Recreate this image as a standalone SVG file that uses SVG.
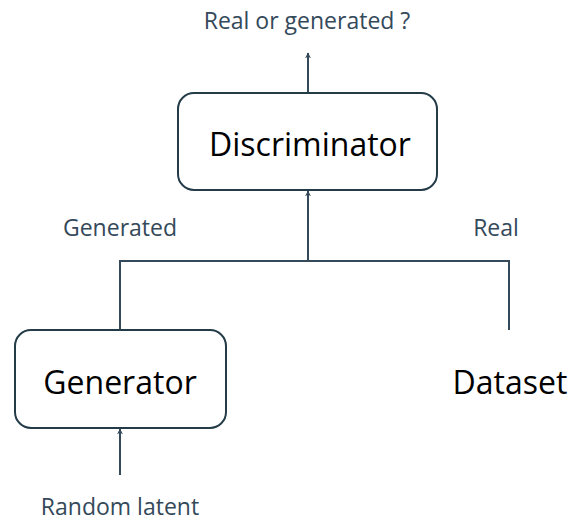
<svg xmlns="http://www.w3.org/2000/svg" width="570" height="521" viewBox="0 0 570 521">
  <style>
    .box { fill: #ffffff; stroke: #243b48; stroke-width: 2; }
    .wire { fill: none; stroke: #34495a; stroke-width: 2; }
    .title { font-family: "Open Sans", "Noto Sans", sans-serif; font-size: 32px; fill: #000000; }
    .label { font-family: "Open Sans", "Noto Sans", sans-serif; font-size: 23px; fill: #34495a; }
  </style>
  <defs>
    <marker id="arrow" viewBox="0 0 10 10" refX="9" refY="5" markerWidth="6" markerHeight="8" markerUnits="userSpaceOnUse" orient="auto">
      <path d="M0,0 L10,5 L0,10 L3,5 Z" fill="#34495a"/>
    </marker>
  </defs>

  <rect width="570" height="521" fill="#ffffff"/>

  <!-- connectors -->
  <g id="connectors">
    <path class="wire" d="M308,93 V53" marker-end="url(#arrow)"/>
    <path class="wire" d="M120,330 V261 H509 V330"/>
    <path class="wire" d="M308,261 V191" marker-end="url(#arrow)"/>
    <path class="wire" d="M120,475 V429" marker-end="url(#arrow)"/>
  </g>

  <!-- connector labels -->
  <g id="labels">
    <text class="label" x="307" y="29" text-anchor="middle">Real or generated ?</text>
    <text class="label" x="120" y="236" text-anchor="middle">Generated</text>
    <text class="label" x="496" y="236" text-anchor="middle">Real</text>
    <text class="label" x="120" y="515" text-anchor="middle">Random latent</text>
  </g>

  <g id="discriminator">
    <rect class="box" x="178" y="93" width="259" height="97" rx="16"/>
    <text class="title" x="310" y="156" text-anchor="middle">Discriminator</text>
  </g>

  <g id="generator">
    <rect class="box" x="15" y="330" width="211" height="98" rx="16"/>
    <text class="title" x="120" y="394" text-anchor="middle">Generator</text>
  </g>

  <g id="dataset">
    <text class="title" x="510" y="394" text-anchor="middle">Dataset</text>
  </g>
</svg>
